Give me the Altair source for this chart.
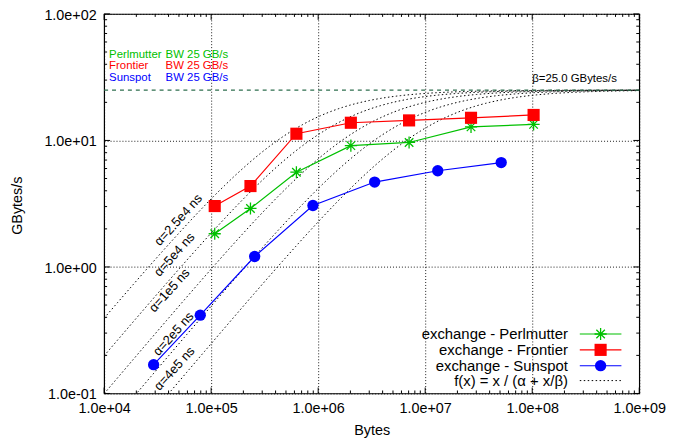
import altair as alt
import pandas as pd
import numpy as np

# ---------------- data ----------------
sizes_fp = [1.08e5, 2.33e5, 6.26e5, 2.02e6, 7.07e6, 2.68e7, 1.03e8]
frontier_bw = [3.03, 4.36, 11.3, 13.8, 14.4, 15.1, 15.9]
perlmutter_bw = [1.83, 2.90, 5.61, 9.10, 9.64, 12.8, 13.4]
sizes_sunspot = [2.90e4, 7.91e4, 2.55e5, 8.93e5, 3.37e6, 1.31e7, 5.13e7]
sunspot_bw = [0.169, 0.416, 1.21, 3.06, 4.69, 5.76, 6.68]

alphas_ns = [2.5e4, 5e4, 1e5, 2e5, 4e5]
alpha_labels = ["α=2.5e4 ns", "α=5e4 ns", "α=1e5 ns", "α=2e5 ns", "α=4e5 ns"]
beta = 25.0
beta_label = "β=25.0 GBytes/s"

machines = ["Perlmutter", "Frontier", "Sunspot"]
bw_text = "BW 25 GB/s"
legend_labels = ["exchange - Perlmutter", "exchange - Frontier",
                 "exchange - Sunspot", "f(x) = x / (α + x/β)"]

x_ticks = [1e4, 1e5, 1e6, 1e7, 1e8, 1e9]
y_ticks = [0.1, 1.0, 10.0, 100.0]
x_minor = [k * 10.0 ** e for e in range(4, 9) for k in range(2, 10)]
y_minor = [k * 10.0 ** e for e in range(-1, 2) for k in range(2, 10)]

# ---------------- styling ----------------
W, H = 540, 383
FONT = "Liberation Sans"
GREEN, RED, BLUE = "#00c000", "#ff0000", "#0000ff"
BETA_COLOR = "#2f6f4f"
STAR = "M-1,0L1,0M0,-1L0,1M-0.7,-0.7L0.7,0.7M-0.7,0.7L0.7,-0.7"

xs = alt.Scale(type="log", domain=[1e4, 1e9], nice=False)
ys = alt.Scale(type="log", domain=[0.1, 100], nice=False)

lab = ("'1.0e' + (datum.value < 1 ? '-' : '+') + "
       "(abs(round(log(datum.value)/LN10)) < 10 ? '0' : '') + "
       "abs(round(log(datum.value)/LN10))")

XAX = alt.Axis(
    values=x_ticks, labelExpr=lab, title="Bytes", grid=True, ticks=False,
    domain=False, labelPadding=8, labelFont=FONT, labelFontSize=14.5,
    labelColor="black", labelFlush=False, labelOverlap=False,
    titleFont=FONT, titleFontSize=14.5,
    titleFontWeight="normal", titleColor="black", titleX=270, titleY=37,
    titleBaseline="middle", gridColor="black", gridDash=[1, 2],
    gridOpacity=0.9)
YAX = alt.Axis(
    values=y_ticks, labelExpr=lab, title="GBytes/s", grid=True, ticks=False,
    domain=False, labelPadding=8, labelFont=FONT, labelFontSize=14.5,
    labelColor="black", labelFlush=False, labelOverlap=False, labelOffset=1.5,
    titleFont=FONT, titleFontSize=14.5,
    titleFontWeight="normal", titleColor="black", titleX=-87, titleY=193,
    titleAngle=270, titleAlign="center", titleBaseline="middle",
    gridColor="black", gridDash=[1, 2], gridOpacity=0.9)

def X(f):
    return alt.X(f, scale=xs, axis=XAX)

def Y(f):
    return alt.Y(f, scale=ys, axis=YAX)

# model curves f(x) = x / (alpha + x/beta)
cx = np.logspace(4, 9, 241)
curves = pd.DataFrame([{"alpha": a, "x": v, "y": v / (a + v / beta)}
                       for a in alphas_ns for v in cx])

layers = []

layers.append(alt.Chart(curves).mark_line(
    color="black", strokeDash=[1.5, 2.5], strokeWidth=1, clip=True
).encode(x=X("x:Q"), y=Y("y:Q"), detail="alpha:N"))

beta_df = pd.DataFrame({"y": [beta]})
layers.append(alt.Chart(beta_df).mark_rule(
    color=BETA_COLOR, strokeDash=[4, 4], strokeWidth=1.2
).encode(y=Y("y:Q")))

layers.append(alt.Chart(pd.DataFrame({"t": [beta_label]})).mark_text(
    align="left", baseline="middle", font=FONT, fontSize=11.5, color="black"
).encode(text="t:N", x=alt.value(432), y=alt.value(66)))

def series(xv, yv, color, shape, size, filled, sw):
    df = pd.DataFrame({"x": xv, "y": yv})
    line = alt.Chart(df).mark_line(color=color, strokeWidth=1.2).encode(
        x=X("x:Q"), y=Y("y:Q"))
    pts = alt.Chart(df).mark_point(
        shape=shape, size=size, filled=filled, color=color, opacity=1,
        strokeWidth=sw).encode(x=X("x:Q"), y=Y("y:Q"))
    return [line, pts]

layers += series(sizes_fp, perlmutter_bw, GREEN, STAR, 150, False, 1.3)
layers += series(sizes_fp, frontier_bw, RED, "square", 150, True, 0)
layers += series(sizes_sunspot, sunspot_bw, BLUE, "circle", 130, True, 0)

# alpha labels along curves
alpha_pos = [(75, 208), (71, 243), (66, 279), (70, 323), (71, 358)]
for t, (px, py) in zip(alpha_labels, alpha_pos):
    layers.append(alt.Chart(pd.DataFrame({"t": [t]})).mark_text(
        align="center", baseline="middle", angle=312, font=FONT, fontSize=13,
        color="black").encode(text="t:N", x=alt.value(px), y=alt.value(py)))

# top-left bandwidth notes
for name, color, py in zip(machines, [GREEN, RED, BLUE], [41, 53, 65]):
    layers.append(alt.Chart(pd.DataFrame({"t": [name]})).mark_text(
        align="left", baseline="middle", font=FONT, fontSize=11.5, color=color
    ).encode(text="t:N", x=alt.value(5), y=alt.value(py)))
    layers.append(alt.Chart(pd.DataFrame({"t": [bw_text]})).mark_text(
        align="left", baseline="middle", font=FONT, fontSize=11.5, color=color
    ).encode(text="t:N", x=alt.value(62), y=alt.value(py)))

# inward ticks on all four sides
def xticks(vals, ln):
    df = pd.DataFrame({"x": vals})
    b = alt.Chart(df).mark_rule(color="black", strokeWidth=1).encode(
        x=X("x:Q"), y=alt.value(H), y2=alt.value(H - ln))
    t = alt.Chart(df).mark_rule(color="black", strokeWidth=1).encode(
        x=X("x:Q"), y=alt.value(0), y2=alt.value(ln))
    return [b, t]

def yticks(vals, ln):
    df = pd.DataFrame({"y": vals})
    l = alt.Chart(df).mark_rule(color="black", strokeWidth=1).encode(
        y=Y("y:Q"), x=alt.value(0), x2=alt.value(ln))
    r = alt.Chart(df).mark_rule(color="black", strokeWidth=1).encode(
        y=Y("y:Q"), x=alt.value(W), x2=alt.value(W - ln))
    return [l, r]

layers += xticks(x_ticks, 6) + xticks(x_minor, 3)
layers += yticks(y_ticks, 6) + yticks(y_minor, 3)

# legend (bottom right, text left of sample)
rows_y = [323, 339, 355, 370]
leg_colors = [GREEN, RED, BLUE, "black"]
for i, (t, c, ry) in enumerate(zip(legend_labels, leg_colors, rows_y)):
    d = pd.DataFrame({"t": [t]})
    layers.append(alt.Chart(d).mark_text(
        align="right", baseline="middle", font=FONT, fontSize=15, color="black"
    ).encode(text="t:N", x=alt.value(468), y=alt.value(ry)))
    if i < 3:
        layers.append(alt.Chart(d).mark_rule(color=c, strokeWidth=1.2).encode(
            x=alt.value(480), x2=alt.value(522), y=alt.value(ry)))
    else:
        layers.append(alt.Chart(d).mark_rule(
            color="black", strokeWidth=1, strokeDash=[1.5, 2.5]).encode(
            x=alt.value(480), x2=alt.value(522), y=alt.value(ry)))
layers.append(alt.Chart(pd.DataFrame({"t": [0]})).mark_point(
    shape=STAR, size=150, filled=False, color=GREEN, opacity=1, strokeWidth=1.3
).encode(x=alt.value(501), y=alt.value(rows_y[0])))
layers.append(alt.Chart(pd.DataFrame({"t": [0]})).mark_point(
    shape="square", size=150, filled=True, color=RED, opacity=1
).encode(x=alt.value(501), y=alt.value(rows_y[1])))
layers.append(alt.Chart(pd.DataFrame({"t": [0]})).mark_point(
    shape="circle", size=130, filled=True, color=BLUE, opacity=1
).encode(x=alt.value(501), y=alt.value(rows_y[2])))

chart = alt.layer(*layers).properties(
    width=W, height=H,
    autosize=alt.AutoSizeParams(type="none"),
    padding={"left": 97, "top": 4, "right": 28, "bottom": 48},
    background="white",
).configure_view(stroke="black", strokeWidth=1.2)

chart.save("out.html", embed_options={"renderer": "svg", "actions": False})
